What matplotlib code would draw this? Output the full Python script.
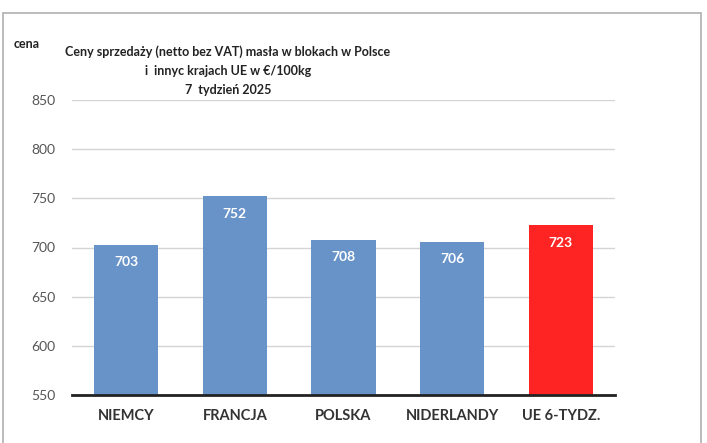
import matplotlib.pyplot as plt
from matplotlib.patches import Rectangle

plt.rcParams['font.family'] = ['Lato', 'DejaVu Sans']

categories = ['NIEMCY', 'FRANCJA', 'POLSKA', 'NIDERLANDY', 'UE 6-TYDZ.']
prices = [703, 752, 708, 706, 723]
bar_colors = ['#6793c9', '#6793c9', '#6793c9', '#6793c9', '#ff2424']
y_ticks = [550, 600, 650, 700, 750, 800, 850]

fig = plt.figure(figsize=(7.07, 4.43), dpi=100)
# outer chart border
fig.patches.append(Rectangle((3 / 707, -0.1), 698 / 707, 1 - 12.5 / 443 + 0.1,
                             transform=fig.transFigure, fill=False,
                             edgecolor='#b0b0b0', linewidth=1.2))

ax = fig.add_axes([72 / 707, 1 - 395 / 443, 543 / 707, 295 / 443])
x = range(len(categories))
bars = ax.bar(x, prices, width=0.59, color=bar_colors, zorder=2)
ax.set_ylim(550, 850)
ax.set_xlim(-0.5, len(categories) - 0.5)
ax.set_yticks(y_ticks)
ax.set_yticklabels([str(t) for t in y_ticks], fontsize=10, color='#555555')
ax.set_xticks(list(x))
ax.set_xticklabels(categories, fontsize=10.5, fontweight='bold', color='#333333')
ax.tick_params(axis='both', length=0)
ax.tick_params(axis='x', pad=10)
ax.tick_params(axis='y', pad=12)
ax.grid(axis='y', color='#d4d4d4', linewidth=1, zorder=0)
for s in ['top', 'right', 'left']:
    ax.spines[s].set_visible(False)
ax.spines['bottom'].set_linewidth(2)
ax.spines['bottom'].set_color('#222222')
ax.spines['bottom'].set_zorder(3)

for b, v in zip(bars, prices):
    ax.text(b.get_x() + b.get_width() / 2, v - 18, str(v), ha='center', va='center',
            color='white', fontsize=10, fontweight='bold', zorder=4)

fig.text(228 / 707, 1 - 71 / 443,
         'Ceny sprzedaży (netto bez VAT) masła w blokach w Polsce\n'
         'i  innyc krajach UE w €/100kg\n7  tydzień 2025',
         ha='center', va='center', fontsize=9, fontweight='bold',
         color='#222222', linespacing=1.7)
fig.text(14 / 707, 1 - 44 / 443, 'cena', ha='left', va='center',
         fontsize=9, fontweight='bold', color='#222222')

fig.savefig('out.png', dpi=100)
